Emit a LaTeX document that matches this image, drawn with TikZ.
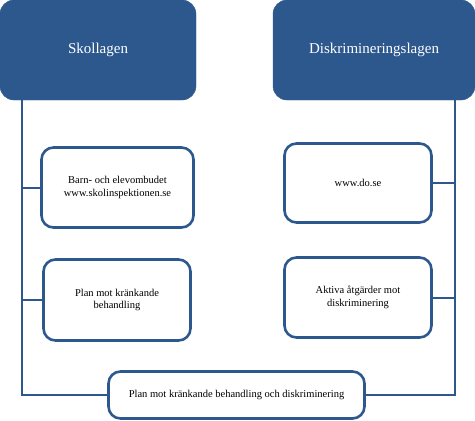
\documentclass[tikz,border=0pt]{standalone}
\usepackage{fontspec}
\setmainfont{Liberation Serif}
\usepackage{tikz}
\usetikzlibrary{positioning}
\definecolor{lagblue}{RGB}{44,88,142}

\begin{document}
\begin{tikzpicture}[x=1pt,y=-1pt,
  lawbox/.style={rectangle, rounded corners=14pt, fill=lagblue, draw=lagblue,
    text=white, font=\fontsize{15}{17}\selectfont, align=center},
  infobox/.style={rectangle, rounded corners=12pt, draw=lagblue, line width=2.6pt,
    fill=white, align=center, font=\fontsize{10.5}{12.5}\selectfont},
  conn/.style={draw=lagblue, line width=2pt}]
  \useasboundingbox (0,0) rectangle (475,421);

  \node[lawbox, minimum width=196pt, minimum height=100pt] (skol) at (98,50) {Skollagen};
  \node[lawbox, minimum width=202pt, minimum height=100pt] (disk) at (374,50) {Diskrimineringslagen};

  \node[infobox, minimum width=152pt, minimum height=80pt] (barn) at (117.5,187.5) {Barn- och elevombudet\\www.skolinspektionen.se};
  \node[infobox, minimum width=147pt, minimum height=81pt] (krank) at (117,300) {Plan mot kränkande\\behandling};
  \node[infobox, minimum width=147pt, minimum height=79pt] (dose) at (358,183) {www.do.se};
  \node[infobox, minimum width=147pt, minimum height=80pt] (aktiva) at (358,297.5) {Aktiva åtgärder mot\\diskriminering};
  \node[infobox, minimum width=256pt, minimum height=47pt] (plan) at (236.5,395) {Plan mot kränkande behandling och diskriminering};

  \coordinate (lbus) at (22,395);
  \coordinate (rbus) at (455,395);

  \draw[conn] (skol.south -| lbus) -- (lbus) -- (plan.west);
  \draw[conn] (disk.south -| rbus) -- (rbus) -- (plan.east);
  \draw[conn] (barn.west -| lbus) -- (barn.west);
  \draw[conn] (krank.west -| lbus) -- (krank.west);
  \draw[conn] (dose.east -| rbus) -- (dose.east);
  \draw[conn] (aktiva.east -| rbus) -- (aktiva.east);
\end{tikzpicture}
\end{document}
